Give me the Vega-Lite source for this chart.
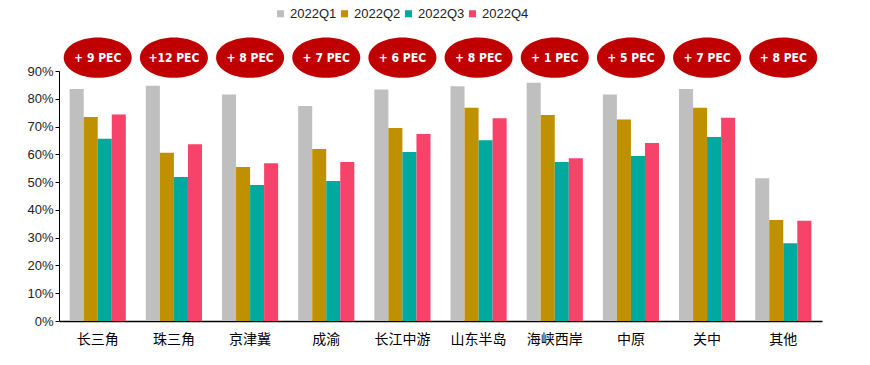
{
  "$schema": "https://vega.github.io/schema/vega-lite/v6.json",
  "autosize": {"type": "none"},
  "width": 763,
  "height": 250,
  "padding": {"left": 59, "top": 71, "right": 48, "bottom": 44},
  "background": "white",
  "config": {"view": {"stroke": null}},
  "datasets": {
    "bars": [
      {"region": "长三角", "quarter": "2022Q1", "value": 83.5},
      {"region": "长三角", "quarter": "2022Q2", "value": 73.4},
      {"region": "长三角", "quarter": "2022Q3", "value": 65.6},
      {"region": "长三角", "quarter": "2022Q4", "value": 74.3},
      {"region": "珠三角", "quarter": "2022Q1", "value": 84.7},
      {"region": "珠三角", "quarter": "2022Q2", "value": 60.6},
      {"region": "珠三角", "quarter": "2022Q3", "value": 51.8},
      {"region": "珠三角", "quarter": "2022Q4", "value": 63.6},
      {"region": "京津冀", "quarter": "2022Q1", "value": 81.5},
      {"region": "京津冀", "quarter": "2022Q2", "value": 55.4},
      {"region": "京津冀", "quarter": "2022Q3", "value": 49.0},
      {"region": "京津冀", "quarter": "2022Q4", "value": 56.8},
      {"region": "成渝", "quarter": "2022Q1", "value": 77.4},
      {"region": "成渝", "quarter": "2022Q2", "value": 61.9},
      {"region": "成渝", "quarter": "2022Q3", "value": 50.4},
      {"region": "成渝", "quarter": "2022Q4", "value": 57.2},
      {"region": "长江中游", "quarter": "2022Q1", "value": 83.3},
      {"region": "长江中游", "quarter": "2022Q2", "value": 69.5},
      {"region": "长江中游", "quarter": "2022Q3", "value": 60.8},
      {"region": "长江中游", "quarter": "2022Q4", "value": 67.3},
      {"region": "山东半岛", "quarter": "2022Q1", "value": 84.5},
      {"region": "山东半岛", "quarter": "2022Q2", "value": 76.8},
      {"region": "山东半岛", "quarter": "2022Q3", "value": 65.1},
      {"region": "山东半岛", "quarter": "2022Q4", "value": 73.0},
      {"region": "海峡西岸", "quarter": "2022Q1", "value": 85.8},
      {"region": "海峡西岸", "quarter": "2022Q2", "value": 74.2},
      {"region": "海峡西岸", "quarter": "2022Q3", "value": 57.2},
      {"region": "海峡西岸", "quarter": "2022Q4", "value": 58.6},
      {"region": "中原", "quarter": "2022Q1", "value": 81.5},
      {"region": "中原", "quarter": "2022Q2", "value": 72.5},
      {"region": "中原", "quarter": "2022Q3", "value": 59.4},
      {"region": "中原", "quarter": "2022Q4", "value": 64.1},
      {"region": "关中", "quarter": "2022Q1", "value": 83.5},
      {"region": "关中", "quarter": "2022Q2", "value": 76.8},
      {"region": "关中", "quarter": "2022Q3", "value": 66.2},
      {"region": "关中", "quarter": "2022Q4", "value": 73.2},
      {"region": "其他", "quarter": "2022Q1", "value": 51.4},
      {"region": "其他", "quarter": "2022Q2", "value": 36.4},
      {"region": "其他", "quarter": "2022Q3", "value": 28.0},
      {"region": "其他", "quarter": "2022Q4", "value": 36.1}
    ],
    "bubbles": [
      {"region": "长三角", "label": "+ 9 PEC"},
      {"region": "珠三角", "label": "+12 PEC"},
      {"region": "京津冀", "label": "+ 8 PEC"},
      {"region": "成渝", "label": "+ 7 PEC"},
      {"region": "长江中游", "label": "+ 6 PEC"},
      {"region": "山东半岛", "label": "+ 8 PEC"},
      {"region": "海峡西岸", "label": "+ 1 PEC"},
      {"region": "中原", "label": "+ 5 PEC"},
      {"region": "关中", "label": "+ 7 PEC"},
      {"region": "其他", "label": "+ 8 PEC"}
    ]
  },
  "encoding": {
    "x": {
      "field": "region",
      "type": "nominal",
      "scale": {
        "domain": ["长三角", "珠三角", "京津冀", "成渝", "长江中游", "山东半岛", "海峡西岸", "中原", "关中", "其他"],
        "paddingInner": 0.263,
        "paddingOuter": 0.14
      },
      "axis": {
        "title": null,
        "labelAngle": 0,
        "ticks": false,
        "domainColor": "#000000",
        "domainWidth": 1.5,
        "labelFont": "Noto Sans CJK SC",
        "labelFontSize": 14,
        "labelColor": "#000000",
        "labelPadding": 11
      }
    }
  },
  "layer": [
    {
      "data": {"name": "bars"},
      "mark": {"type": "bar"},
      "encoding": {
        "xOffset": {"field": "quarter", "type": "nominal", "scale": {"paddingInner": 0, "paddingOuter": 0}},
        "y": {
          "field": "value",
          "type": "quantitative",
          "scale": {"domain": [0, 90], "nice": false},
          "axis": {
            "title": null,
            "values": [0, 10, 20, 30, 40, 50, 60, 70, 80, 90],
            "labelExpr": "datum.value + '%'",
            "labelOverlap": false,
            "grid": false,
            "domainColor": "#000000",
            "domainWidth": 1,
            "tickColor": "#000000",
            "tickSize": 4,
            "labelFont": "Liberation Sans",
            "labelFontSize": 13,
            "labelColor": "#222222",
            "labelPadding": 2
          }
        },
        "color": {
          "field": "quarter",
          "type": "nominal",
          "scale": {
            "domain": ["2022Q1", "2022Q2", "2022Q3", "2022Q4"],
            "range": ["#BFBFBF", "#BF9000", "#00A99D", "#F7436A"]
          },
          "legend": {
            "title": null,
            "orient": "none",
            "direction": "horizontal",
            "legendX": 215,
            "legendY": -64,
            "symbolType": "square",
            "symbolSize": 50,
            "symbolStrokeWidth": 0,
            "labelFont": "Liberation Sans",
            "labelFontSize": 13,
            "labelColor": "#222222",
            "labelOffset": 3,
            "columnPadding": 1
          }
        }
      }
    },
    {
      "data": {"name": "bubbles"},
      "mark": {
        "type": "point",
        "shape": "M-1,0A1,0.59,0,1,1,1,0A1,0.59,0,1,1,-1,0Z",
        "filled": true,
        "color": "#C00000",
        "opacity": 1,
        "size": 4624
      },
      "encoding": {
        "y": {
          "datum": 94.8,
          "type": "quantitative",
          "scale": {"domain": [0, 90], "nice": false},
          "axis": {
            "title": null,
            "values": [0, 10, 20, 30, 40, 50, 60, 70, 80, 90],
            "labelExpr": "datum.value + '%'",
            "labelOverlap": false,
            "grid": false,
            "domainColor": "#000000",
            "domainWidth": 1,
            "tickColor": "#000000",
            "tickSize": 4,
            "labelFont": "Liberation Sans",
            "labelFontSize": 13,
            "labelColor": "#222222",
            "labelPadding": 2
          }
        }
      }
    },
    {
      "data": {"name": "bubbles"},
      "mark": {
        "type": "text",
        "color": "#FFFFFF",
        "font": "DejaVu Sans Condensed",
        "fontWeight": "bold",
        "fontSize": 12,
        "align": "center",
        "baseline": "middle"
      },
      "encoding": {
        "y": {
          "datum": 94.8,
          "type": "quantitative",
          "scale": {"domain": [0, 90], "nice": false},
          "axis": {
            "title": null,
            "values": [0, 10, 20, 30, 40, 50, 60, 70, 80, 90],
            "labelExpr": "datum.value + '%'",
            "labelOverlap": false,
            "grid": false,
            "domainColor": "#000000",
            "domainWidth": 1,
            "tickColor": "#000000",
            "tickSize": 4,
            "labelFont": "Liberation Sans",
            "labelFontSize": 13,
            "labelColor": "#222222",
            "labelPadding": 2
          }
        },
        "text": {"field": "label"}
      }
    }
  ]
}
